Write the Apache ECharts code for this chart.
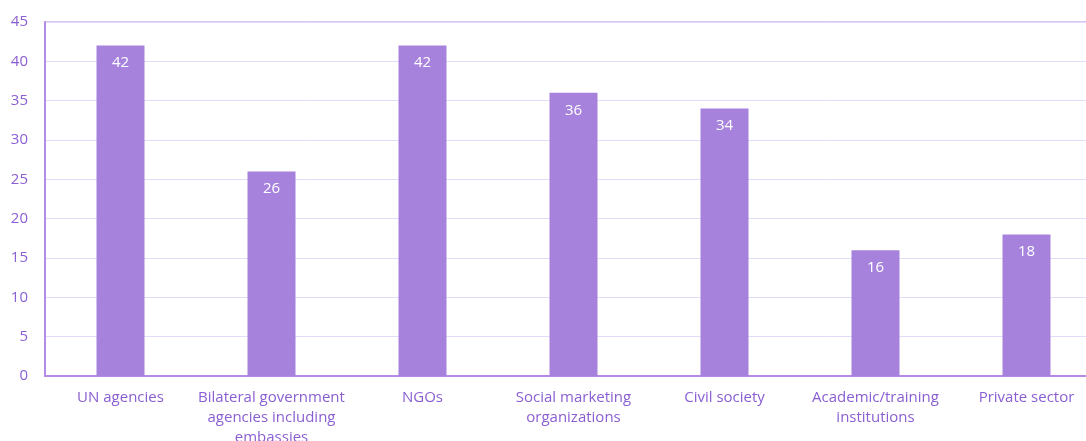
<!DOCTYPE html>
<html>
<head>
<meta charset="utf-8">
<script src="https://cdn.jsdelivr.net/npm/echarts@6/dist/echarts.min.js"></script>
<style>html,body{margin:0;padding:0;background:#fff;}#c{width:1086px;height:441px;}</style>
</head>
<body>
<div id="c"></div>
<script>
const categories = ["UN agencies", "Bilateral government\nagencies including\nembassies", "NGOs", "Social marketing\norganizations", "Civil society", "Academic/training\ninstitutions", "Private sector"];
const values = [42, 26, 42, 36, 34, 16, 18];
const yTicks = [0, 5, 10, 15, 20, 25, 30, 35, 40, 45];

const chart = echarts.init(document.getElementById('c'));
chart.setOption({
  animation: false,
  backgroundColor: '#ffffff',
  grid: { left: 45, top: 22, width: 1057, bottom: 65, outerBoundsMode: 'none', containLabel: false, show: true, borderColor: '#b48ce6', borderWidth: 1, backgroundColor: 'transparent' },
  xAxis: {
    type: 'category', data: categories,
    axisLine: { lineStyle: { color: '#b48ce6', width: 2 } },
    axisTick: { show: false },
    axisLabel: { color: '#8a5fd2', fontFamily: 'Open Sans', fontSize: 15, lineHeight: 20, margin: 12, interval: 0 }
  },
  yAxis: {
    type: 'value', min: yTicks[0], max: yTicks[yTicks.length - 1], interval: 5,
    axisLine: { show: true, lineStyle: { color: '#b48ce6', width: 2 } },
    axisTick: { show: false },
    splitLine: { lineStyle: { color: '#e6dafa', width: 1 } },
    axisLabel: { color: '#8a5fd2', fontFamily: 'Open Sans', fontSize: 15, margin: 17 }
  },
  series: [{
    type: 'bar', data: values, barWidth: 48,
    itemStyle: { color: '#a782dd' },
    label: { show: true, position: 'insideTop', distance: 10, color: '#ffffff', fontFamily: 'Open Sans', fontSize: 15 }
  }]
});
</script>
</body>
</html>
